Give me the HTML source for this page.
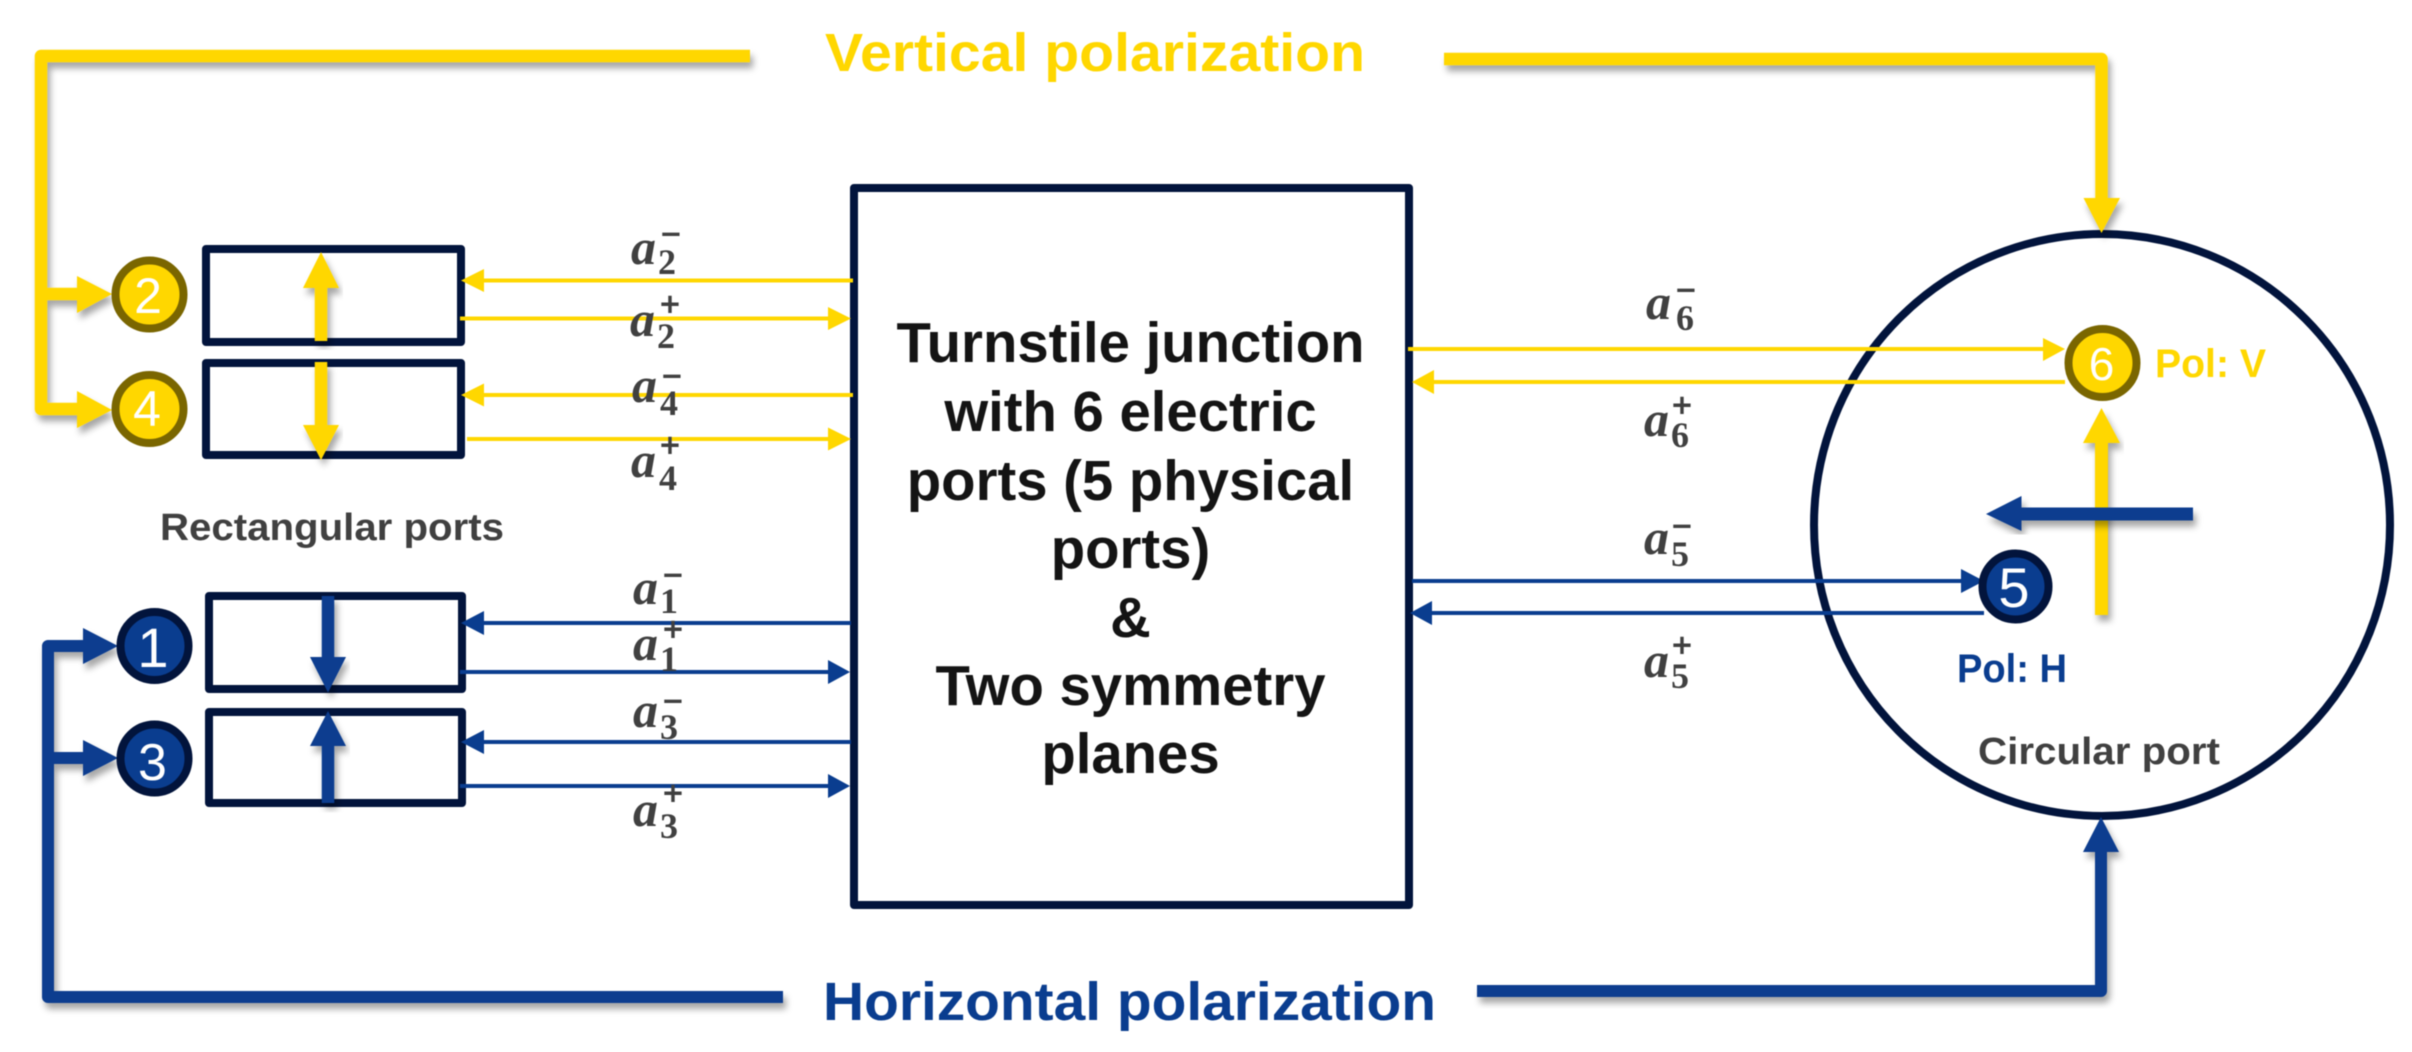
<!DOCTYPE html>
<html>
<head>
<meta charset="utf-8">
<style>
html,body{margin:0;padding:0;background:#fff}
svg{display:block;filter:blur(0.5px)}
.a{font:italic bold 50px "Liberation Serif",serif;fill:#404040}
.s{font:bold 36px "Liberation Serif",serif;fill:#404040}
.m{font:bold 35px "Liberation Serif",serif;fill:#404040;stroke:#404040;stroke-width:1}
.d{font-family:"Liberation Sans",sans-serif;fill:#fff;text-anchor:middle}
.t{font:bold 56.3px "Liberation Sans",sans-serif;fill:#141414;text-anchor:middle}
.l{font:bold 38px "Liberation Sans",sans-serif;fill:#404040}
.h{font:bold 54px "Liberation Sans",sans-serif}
.p{font:bold 40px "Liberation Sans",sans-serif}
</style>
</head>
<body>
<svg width="2412" height="1052" viewBox="0 0 2412 1052" xmlns="http://www.w3.org/2000/svg">
<defs>
<filter id="sh" x="-10%" y="-10%" width="120%" height="120%">
<feDropShadow dx="3" dy="6" stdDeviation="3.5" flood-color="#000" flood-opacity="0.35"/>
</filter>
</defs>
<rect width="2412" height="1052" fill="#fff"/>

<!-- boxes -->
<g fill="none" stroke="#02143c" stroke-width="8" stroke-linejoin="round">
<rect x="206" y="249" width="255" height="93"/>
<rect x="206" y="363" width="255" height="92"/>
<rect x="209" y="596" width="253" height="93"/>
<rect x="209" y="712" width="253" height="91"/>
<rect x="854" y="188" width="555" height="717"/>
<ellipse cx="2102" cy="525" rx="288" ry="291"/>
</g>

<!-- thick yellow connectors -->
<g filter="url(#sh)">
<path d="M750,56 H41 V409 H80 M41,294 H80" fill="none" stroke="#ffd700" stroke-width="12.5" stroke-linejoin="round"/>
<polygon points="77,276 112,294 77,313" fill="#ffd700"/>
<polygon points="77,391 112,410 77,428" fill="#ffd700"/>
</g>
<g filter="url(#sh)">
<path d="M1444,59 H2101.5 V200" fill="none" stroke="#ffd700" stroke-width="12.5" stroke-linejoin="round"/>
<polygon points="2083.5,198 2120,198 2101.5,233" fill="#ffd700"/>
</g>
<g filter="url(#sh)">
<path d="M321,341 V286" stroke="#ffd700" stroke-width="12.5" fill="none"/>
<polygon points="303,288 339,288 321,252" fill="#ffd700"/>
</g>
<g filter="url(#sh)">
<path d="M321,362 V427" stroke="#ffd700" stroke-width="12.5" fill="none"/>
<polygon points="303,425 339,425 321,460" fill="#ffd700"/>
</g>
<g filter="url(#sh)">
<path d="M2101.5,615 V441" stroke="#ffd700" stroke-width="13" fill="none"/>
<polygon points="2083,443 2120,443 2101.5,408" fill="#ffd700"/>
</g>

<!-- thick blue connectors -->
<g filter="url(#sh)">
<path d="M783,997 H48 V646 H85 M48,758 H85" fill="none" stroke="#0a3d8f" stroke-width="12" stroke-linejoin="round"/>
<polygon points="83,628 118,646 83,664" fill="#0a3d8f"/>
<polygon points="83,740 118,758 83,776" fill="#0a3d8f"/>
</g>
<g filter="url(#sh)">
<path d="M1477,991 H2101 V850" fill="none" stroke="#0a3d8f" stroke-width="12" stroke-linejoin="round"/>
<polygon points="2083,852 2119,852 2101,817" fill="#0a3d8f"/>
</g>
<g filter="url(#sh)">
<path d="M328,596 V659" stroke="#0a3d8f" stroke-width="12.5" fill="none"/>
<polygon points="310,657 346,657 328,692.5" fill="#0a3d8f"/>
</g>
<g filter="url(#sh)">
<path d="M328,803 V744" stroke="#0a3d8f" stroke-width="12.5" fill="none"/>
<polygon points="310,746 346,746 328,711" fill="#0a3d8f"/>
</g>
<g filter="url(#sh)">
<path d="M2193,514 H2019" stroke="#0a3d8f" stroke-width="13" fill="none"/>
<polygon points="2021.5,496 2021.5,531 1986,514" fill="#0a3d8f"/>
</g>

<!-- thin yellow arrows -->
<g stroke="#ffd700" stroke-width="4" fill="none">
<path d="M853,280.5 H480 M460,318.5 H830 M853,395 H480 M467,439 H830 M1408,349 H2045 M2065,382 H1432"/>
</g>
<g fill="#ffd700">
<polygon points="484,269 484,292 461,280.5"/>
<polygon points="828,307 828,330 851,318.5"/>
<polygon points="484,383.5 484,406.5 461,395"/>
<polygon points="828,427.5 828,450.5 851,439"/>
<polygon points="2043,338 2043,361 2065,349"/>
<polygon points="1434,370 1434,394 1412,382"/>
</g>

<!-- thin blue arrows -->
<g stroke="#0a3d8f" stroke-width="4" fill="none">
<path d="M851,623 H480 M460,672 H830 M851,742 H480 M460,786 H830 M1412,581 H1963 M1984,613 H1430"/>
</g>
<g fill="#0a3d8f">
<polygon points="484,611 484,635 461,623"/>
<polygon points="828,660 828,684 850,672"/>
<polygon points="484,730 484,754 461,742"/>
<polygon points="828,774 828,798 850,786"/>
<polygon points="1961,569 1961,593 1984,581"/>
<polygon points="1432,601 1432,625 1410,613"/>
</g>

<!-- numbered circles -->
<g stroke-width="8">
<circle cx="149.5" cy="294.5" r="34" fill="#ffd700" stroke="#7a6600"/>
<circle cx="149.5" cy="409" r="34" fill="#ffd700" stroke="#7a6600"/>
<circle cx="2102.5" cy="363" r="34" fill="#ffd700" stroke="#7a6600"/>
<circle cx="154.5" cy="646" r="34" fill="#0a3d8f" stroke="#02143c"/>
<circle cx="154.5" cy="758.5" r="34" fill="#0a3d8f" stroke="#02143c"/>
<circle cx="2015.5" cy="586.5" r="33" fill="#0a3d8f" stroke="#02143c"/>
</g>
<text class="d" x="148" y="313" font-size="50">2</text>
<text class="d" x="147" y="426" font-size="50">4</text>
<text class="d" x="153" y="667" font-size="56">1</text>
<text class="d" x="152.5" y="780" font-size="52">3</text>
<text class="d" x="2014" y="607" font-size="56">5</text>
<text class="d" x="2101.5" y="380" font-size="46">6</text>

<!-- central text -->
<text class="t" x="1130.5" y="362">Turnstile junction</text>
<text class="t" x="1130.5" y="431">with 6 electric</text>
<text class="t" x="1130.5" y="500">ports (5 physical</text>
<text class="t" x="1130.5" y="568">ports)</text>
<text class="t" x="1130.5" y="637">&amp;</text>
<text class="t" x="1130.5" y="705">Two symmetry</text>
<text class="t" x="1130.5" y="773">planes</text>

<!-- titles and labels -->
<text class="h" x="825" y="71" fill="#ffd700" textLength="540" lengthAdjust="spacingAndGlyphs">Vertical polarization</text>
<text class="h" x="823" y="1020" fill="#0a3d8f" textLength="613" lengthAdjust="spacingAndGlyphs">Horizontal polarization</text>
<text class="l" x="160" y="540" textLength="344" lengthAdjust="spacingAndGlyphs">Rectangular ports</text>
<text class="l" x="1978" y="764" textLength="242" lengthAdjust="spacingAndGlyphs">Circular port</text>
<text class="p" x="2155" y="377" fill="#ffd700" textLength="111" lengthAdjust="spacingAndGlyphs">Pol: V</text>
<text class="p" x="1957" y="682" fill="#0a3d8f" textLength="110" lengthAdjust="spacingAndGlyphs">Pol: H</text>

<!-- a labels -->
<text class="a" x="631" y="264">a</text><text class="s" x="658" y="274">2</text><text class="m" x="661" y="246">−</text>
<text class="a" x="630" y="336">a</text><text class="s" x="657" y="348">2</text><text class="m" x="660" y="316">+</text>
<text class="a" x="632" y="402">a</text><text class="s" x="660" y="415">4</text><text class="m" x="662" y="388">−</text>
<text class="a" x="631" y="477">a</text><text class="s" x="659" y="490">4</text><text class="m" x="660" y="457">+</text>
<text class="a" x="633" y="604">a</text><text class="s" x="660" y="613">1</text><text class="m" x="663" y="587">−</text>
<text class="a" x="633" y="660">a</text><text class="s" x="660" y="671">1</text><text class="m" x="663" y="641">+</text>
<text class="a" x="633" y="727">a</text><text class="s" x="660" y="739">3</text><text class="m" x="663" y="713">−</text>
<text class="a" x="633" y="826">a</text><text class="s" x="660" y="838">3</text><text class="m" x="663" y="805">+</text>
<text class="a" x="1646" y="319">a</text><text class="s" x="1676" y="330">6</text><text class="m" x="1676" y="302">−</text>
<text class="a" x="1644" y="436">a</text><text class="s" x="1671" y="447">6</text><text class="m" x="1672" y="417">+</text>
<text class="a" x="1644" y="554">a</text><text class="s" x="1671" y="566">5</text><text class="m" x="1672" y="538">−</text>
<text class="a" x="1644" y="677">a</text><text class="s" x="1671" y="688">5</text><text class="m" x="1672" y="657">+</text>
</svg>
</body>
</html>
